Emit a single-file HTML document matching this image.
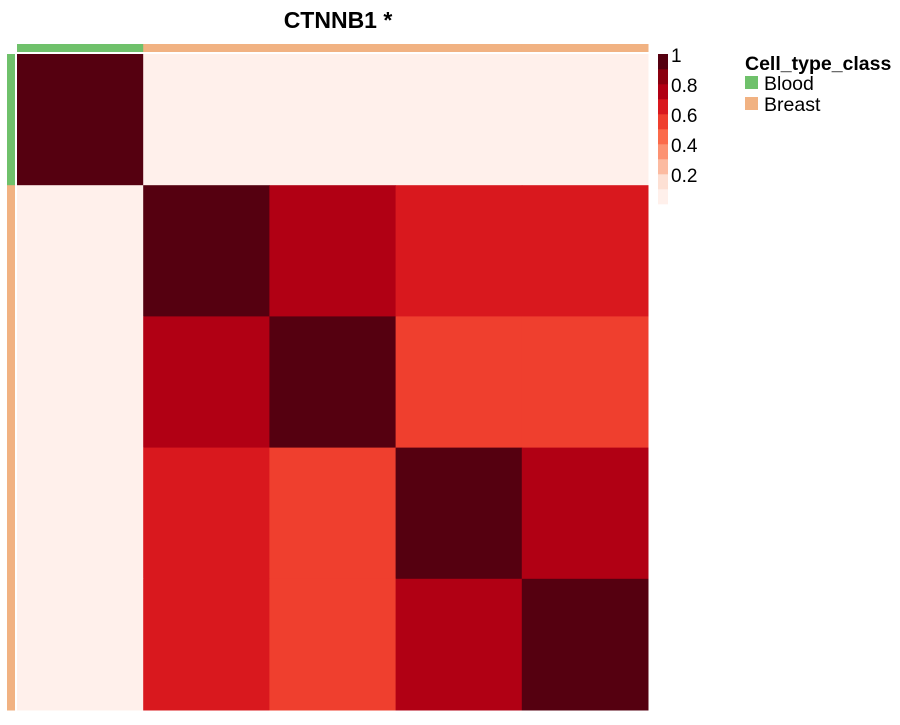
<!DOCTYPE html>
<html><head><meta charset="utf-8"><style>
body{margin:0;background:#fff;font-family:"Liberation Sans",sans-serif}
</style></head><body>
<svg width="900" height="720" xmlns="http://www.w3.org/2000/svg">
<text x="338" y="28" text-anchor="middle" font-size="23" font-weight="bold">CTNNB1 *</text>
<g id="cells"></g>
<g id="annots"></g>
<g id="cbar"></g>
<g>
<text x="745" y="70" font-size="19.5" font-weight="bold">Cell_type_class</text>
<rect x="745" y="76" width="13" height="13" fill="#6fc16b"/>
<text x="764" y="90" font-size="19.5">Blood</text>
<rect x="745" y="97" width="13" height="13" fill="#f1b282"/>
<text x="764" y="111" font-size="19.5">Breast</text>
</g>
</svg>
<script>
const samples = ["Blood","Breast","Breast","Breast","Breast"];
const matrix = [
 [1,0,0,0,0],
 [0,1,0.8,0.7,0.7],
 [0,0.8,1,0.6,0.6],
 [0,0.7,0.6,1,0.8],
 [0,0.7,0.6,0.8,1]
];
const legendTicks = [1,0.8,0.6,0.4,0.2];
const stops = ["#fff0eb","#fde0d4","#fcbba1","#fc9272","#fb6a4a","#ef3f2e","#d9181e","#b10014","#8a000f","#550010"];
const typeColors = {Blood:"#6fc16b",Breast:"#f1b282"};
function col(v){let i=Math.min(9,Math.max(0,Math.round(v*9)));return stops[i];}
const NS="http://www.w3.org/2000/svg";
const x0=17,x1=648,y0=54,y1=710,n=samples.length;
const cw=(x1-x0)/n,ch=(y1-y0)/n;
const xs=i=>x0+i*cw, ys=i=>y0+i*ch;
const cells=document.getElementById('cells');
function r(p,a){const e=document.createElementNS(NS,'rect');for(const k in a)e.setAttribute(k,a[k]);p.appendChild(e);return e;}
matrix.forEach((row,i)=>row.forEach((v,j)=>{
 const e=r(cells,{x:xs(j),y:ys(i),width:cw+0.5,height:ch+0.5,fill:col(v)});
 
 
}));
const an=document.getElementById('annots');
samples.forEach((s,i)=>{
 const t=r(an,{x:xs(i),y:44,width:cw+0.5,height:8,fill:typeColors[s]});
 
 
 const l=r(an,{x:7,y:ys(i),width:8,height:ch+0.5,fill:typeColors[s]});
 
 
});
const cb=document.getElementById('cbar');
const cy0=54,cy1=204,bh=(cy1-cy0)/stops.length;
stops.forEach((c,k)=>{
 const e=r(cb,{x:658,y:cy1-(k+1)*bh,width:10,height:bh+0.3,fill:c});
 
 
});
legendTicks.forEach(v=>{
 const t=document.createElementNS(NS,'text');
 t.setAttribute('x',671);t.setAttribute('y',cy1-v*(cy1-cy0)+8);
 t.setAttribute('font-size',19);t.textContent=String(v);
 
 
 cb.appendChild(t);
});
</script>
</body></html>
